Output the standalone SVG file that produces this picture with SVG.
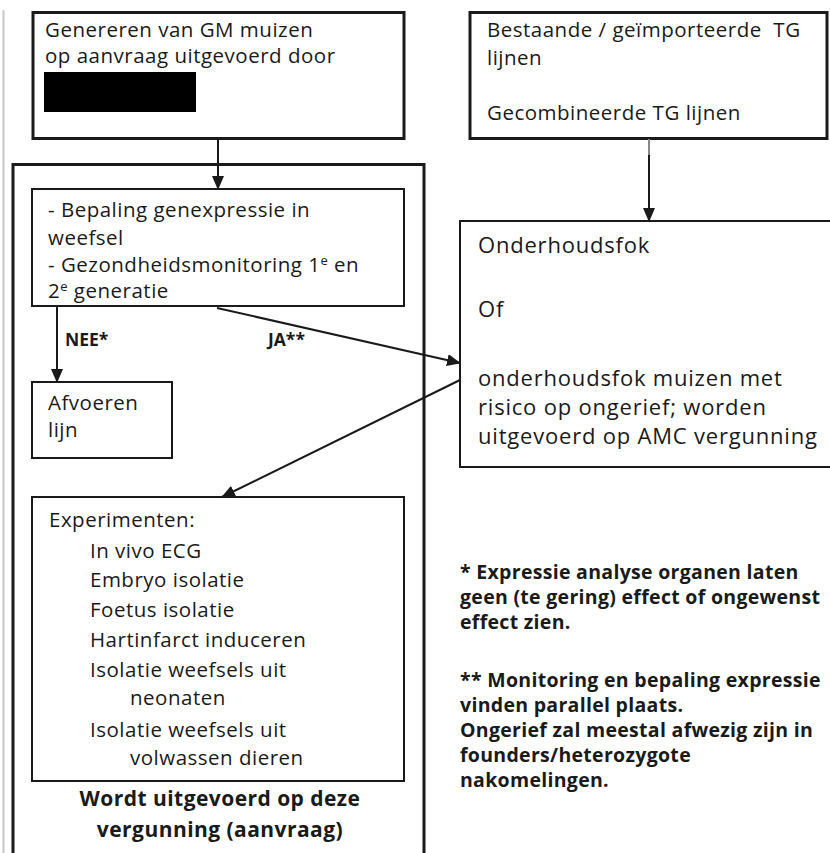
<svg xmlns="http://www.w3.org/2000/svg" width="830" height="853" viewBox="0 0 830 853">
<style>
  .box { fill: #ffffff; stroke: #1a1a1a; }
  .thick { stroke-width: 3; }
  .thin { stroke-width: 2; }
  .t { font-family: "Open Sans", "Liberation Sans", sans-serif; fill: #1a1a1a; }
  .s1 { font-size: 20.5px; letter-spacing: 0.5px; }
  .s2 { font-size: 22px; letter-spacing: 0.8px; }
  .n { font-size: 19.5px; font-weight: bold; letter-spacing: 0.3px; }
  .cap { font-size: 21px; font-weight: bold; letter-spacing: 0.45px; }
  .b { font-weight: bold; }
  .conn { stroke: #1a1a1a; stroke-width: 2; fill: none; }
</style>
<defs>
  <marker id="ah" markerUnits="userSpaceOnUse" markerWidth="14" markerHeight="12" refX="13" refY="6" orient="auto">
    <path d="M0,0 L14,6 L0,12 Z" fill="#1a1a1a"/>
  </marker>
</defs>
<rect width="830" height="853" fill="#ffffff"/>
<line x1="3.5" y1="10" x2="3.5" y2="853" stroke="#c8c8c8" stroke-width="2"/>

<g id="outer">
  <path d="M13,853 V164.5 H424 V853" fill="none" stroke="#1a1a1a" stroke-width="3"/>
  <text class="t cap" x="220" y="806" text-anchor="middle">Wordt uitgevoerd op deze</text>
  <text class="t cap" x="220" y="837" text-anchor="middle">vergunning (aanvraag)</text>
</g>

<g id="node-genereren">
  <rect class="box thick" x="33" y="12.5" width="371" height="126"/>
  <text class="t s1" x="45" y="37">Genereren van GM muizen</text>
  <text class="t s1" x="45" y="63">op aanvraag uitgevoerd door</text>
  <rect x="44" y="72" width="152" height="40" fill="#000000"/>
</g>

<g id="node-bestaande">
  <rect class="box thick" x="470" y="12.5" width="357" height="126"/>
  <text class="t s1" x="487" y="37" xml:space="preserve">Bestaande / geïmporteerde  TG</text>
  <text class="t s1" x="487" y="65">lijnen</text>
  <text class="t s1" x="487" y="120">Gecombineerde TG lijnen</text>
</g>

<g id="node-bepaling">
  <rect class="box thin" x="32" y="189" width="372" height="117"/>
  <text class="t s1" x="48" y="217">- Bepaling genexpressie in</text>
  <text class="t s1" x="48" y="245">weefsel</text>
  <text class="t s1" x="48" y="272">- Gezondheidsmonitoring 1<tspan font-size="13" dy="-7">e</tspan><tspan dy="7"> en</tspan></text>
  <text class="t s1" x="48" y="298">2<tspan font-size="13" dy="-7">e</tspan><tspan dy="7"> generatie</tspan></text>
</g>

<g id="node-afvoeren">
  <rect class="box thin" x="32" y="382" width="140" height="76"/>
  <text class="t s1" x="48" y="410">Afvoeren</text>
  <text class="t s1" x="48" y="437">lijn</text>
</g>

<g id="node-onderhoudsfok">
  <rect class="box thin" x="460" y="221" width="380" height="246"/>
  <text class="t s2" x="478" y="253">Onderhoudsfok</text>
  <text class="t s2" x="478" y="317">Of</text>
  <text class="t s2" x="478" y="386">onderhoudsfok muizen met</text>
  <text class="t s2" x="478" y="415">risico op ongerief; worden</text>
  <text class="t s2" x="478" y="444">uitgevoerd op AMC vergunning</text>
</g>

<g id="node-experimenten">
  <rect class="box thin" x="32" y="497" width="372" height="284"/>
  <text class="t s1" x="49" y="527">Experimenten:</text>
  <text class="t s1" x="90" y="558">In vivo ECG</text>
  <text class="t s1" x="90" y="587">Embryo isolatie</text>
  <text class="t s1" x="90" y="617">Foetus isolatie</text>
  <text class="t s1" x="90" y="647">Hartinfarct induceren</text>
  <text class="t s1" x="90" y="677">Isolatie weefsels uit</text>
  <text class="t s1" x="130" y="705">neonaten</text>
  <text class="t s1" x="90" y="737">Isolatie weefsels uit</text>
  <text class="t s1" x="130" y="765">volwassen dieren</text>
</g>

<g id="notes">
  <text class="t n" x="460" y="579">* Expressie analyse organen laten</text>
  <text class="t n" x="460" y="604">geen (te gering) effect of ongewenst</text>
  <text class="t n" x="460" y="629">effect zien.</text>
  <text class="t n" x="460" y="687">** Monitoring en bepaling expressie</text>
  <text class="t n" x="460" y="712">vinden parallel plaats.</text>
  <text class="t n" x="460" y="737">Ongerief zal meestal afwezig zijn in</text>
  <text class="t n" x="460" y="762">founders/heterozygote</text>
  <text class="t n" x="460" y="787">nakomelingen.</text>
</g>

<g id="connectors">
  <line class="conn" x1="218" y1="139" x2="218" y2="189" marker-end="url(#ah)"/>
  <line class="conn" x1="649" y1="139" x2="649" y2="221" marker-end="url(#ah)"/>
  <line x1="649" y1="139" x2="649" y2="155" stroke="#888888" stroke-width="2"/>
  <line class="conn" x1="57" y1="306" x2="57" y2="382" marker-end="url(#ah)"/>
  <line class="conn" x1="217" y1="308" x2="460" y2="363" marker-end="url(#ah)"/>
  <line class="conn" x1="460" y1="380" x2="222" y2="497" marker-end="url(#ah)"/>
  <text class="t b" font-size="17.5" x="65" y="346">NEE*</text>
  <text class="t b" font-size="17.5" x="268" y="346">JA**</text>
</g>
</svg>
